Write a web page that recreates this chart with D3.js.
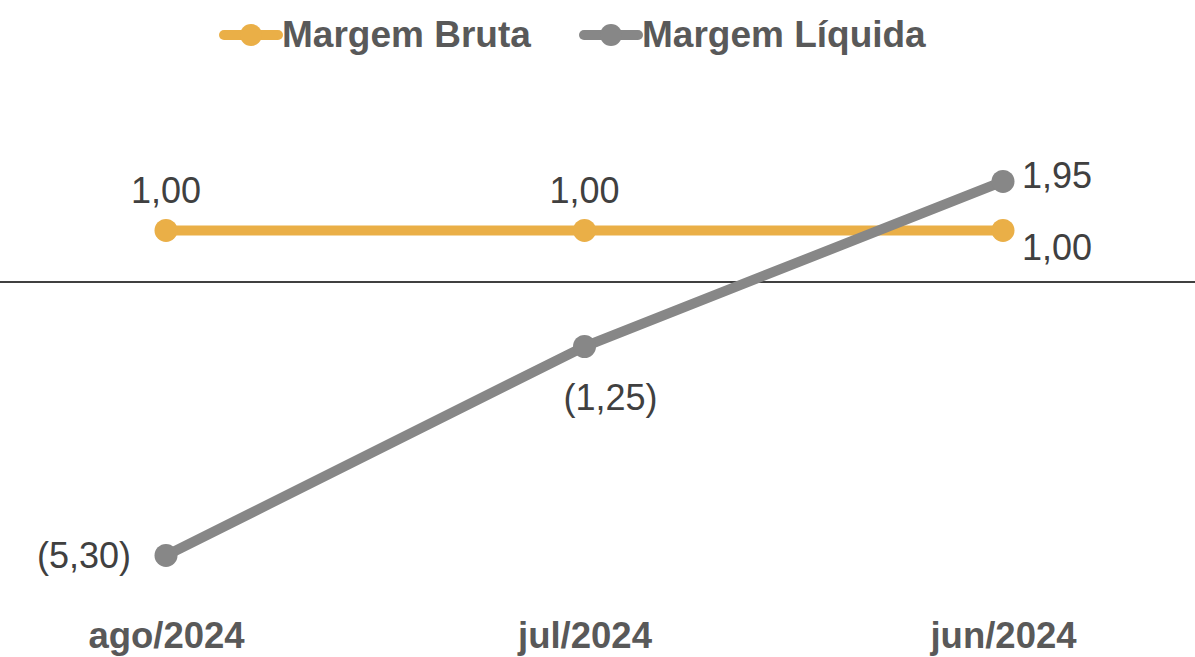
<!DOCTYPE html>
<html><head><meta charset="utf-8">
<script src="https://cdn.jsdelivr.net/npm/d3@7"></script>
<style>body{margin:0;background:#fff;}svg{display:block;font-family:"Liberation Sans",Arial,sans-serif;}</style>
</head><body>
<svg id="c" width="1195" height="657"></svg>
<script>
const categories = ["ago/2024","jul/2024","jun/2024"];
const margemBruta = [1.00, 1.00, 1.00];
const margemLiquida = [-5.30, -1.25, 1.95];
const seriesNames = ["Margem Bruta","Margem Líquida"];
const colors = ["#EAAF47","#878787"];

const fmt = v => { const s = Math.abs(v).toFixed(2).replace(".", ","); return v < 0 ? "(" + s + ")" : s; };

const svg = d3.select("#c");
const x = d3.scalePoint().domain(categories).range([166, 1003]);
const y = d3.scaleLinear().domain([-6, 3]).range([591.6, 127.2]);

// zero line
svg.append("line").attr("x1",0).attr("x2",1195).attr("y1",y(0)).attr("y2",y(0))
  .attr("stroke","#000").attr("stroke-width",1.3);

// x axis labels
const xAxis = d3.axisBottom(x).tickSize(0).tickPadding(0);
const gx = svg.append("g").attr("transform","translate(0,622)").call(xAxis);
gx.select(".domain").remove();
gx.selectAll("text").attr("font-size",36.5).attr("font-weight","bold").attr("fill","#595959")
  .attr("font-family","Liberation Sans, Arial, sans-serif").attr("dy","0.71em");

const data = [margemBruta, margemLiquida];
const line = d3.line().x((d,i)=>x(categories[i])).y(d=>y(d));
data.forEach((vals, s) => {
  svg.append("path").datum(vals).attr("d", line).attr("fill","none")
    .attr("stroke", colors[s]).attr("stroke-width", 10).attr("stroke-linecap","round");
  svg.selectAll(null).data(vals).enter().append("circle")
    .attr("cx",(d,i)=>x(categories[i])).attr("cy",d=>y(d)).attr("r",11.5).attr("fill",colors[s]);
});

// data labels
const lab = (tx, ty, t, anchor) => svg.append("text").attr("x",tx).attr("y",ty).text(t)
  .attr("text-anchor",anchor).attr("font-size",36).attr("fill","#404040");
// Bruta
lab(x(categories[0]), y(margemBruta[0]) - 27, fmt(margemBruta[0]), "middle");
lab(x(categories[1]), y(margemBruta[1]) - 27, fmt(margemBruta[1]), "middle");
lab(x(categories[2]) + 19, y(margemBruta[2]) + 30, fmt(margemBruta[2]), "start");
// Liquida
lab(x(categories[0]) - 35, y(margemLiquida[0]) + 13, fmt(margemLiquida[0]), "end");
lab(x(categories[1]) + 26, y(margemLiquida[1]) + 63, fmt(margemLiquida[1]), "middle");
lab(x(categories[2]) + 19, y(margemLiquida[2]) + 7, fmt(margemLiquida[2]), "start");

// legend
const legX = [220, 580];
seriesNames.forEach((n, s) => {
  const g = svg.append("g");
  g.append("line").attr("x1",legX[s]+4).attr("x2",legX[s]+58).attr("y1",35).attr("y2",35)
    .attr("stroke",colors[s]).attr("stroke-width",10).attr("stroke-linecap","round");
  g.append("circle").attr("cx",legX[s]+31).attr("cy",35).attr("r",11).attr("fill",colors[s]);
  g.append("text").attr("x",legX[s]+62).attr("y",47).text(n).attr("font-size",37)
    .attr("font-weight","bold").attr("fill","#595959");
});
</script>
</body></html>
